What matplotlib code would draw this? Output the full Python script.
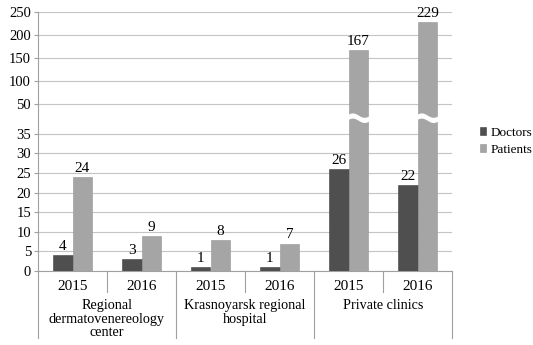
import numpy as np
import matplotlib
matplotlib.use('Agg')
import matplotlib.pyplot as plt
import matplotlib.transforms as mtransforms

plt.rcParams['font.family'] = ['Liberation Serif', 'DejaVu Serif']

# data
years = ['2015', '2016', '2015', '2016', '2015', '2016']
groups = ['Regional\ndermatovenereology\ncenter', 'Krasnoyarsk regional\nhospital', 'Private clinics']
doctors = [4, 3, 1, 1, 26, 22]
patients = [24, 9, 8, 7, 167, 229]
yticks = [0, 5, 10, 15, 20, 25, 30, 35, 50, 100, 150, 200, 250]

# broken axis: 0-35 stretched, 35-50 gap, 50-250 compressed
def fwd(v):
    v = np.asarray(v, dtype=float)
    return np.where(v <= 35, v * 3.92,
           np.where(v <= 50, 137.2 + (v - 35) * 2.0, 167.2 + (v - 50) * 0.46))

def inv(p):
    p = np.asarray(p, dtype=float)
    return np.where(p <= 137.2, p / 3.92,
           np.where(p <= 167.2, 35 + (p - 137.2) / 2.0, 50 + (p - 167.2) / 0.46))

W, H = 533, 345
fig = plt.figure(figsize=(W / 100, H / 100), dpi=100)
ax = fig.add_axes([38 / W, (H - 271) / H, (452 - 38) / W, (271 - 12) / H])
ax.set_yscale('function', functions=(fwd, inv))
ax.set_ylim(0, 250)
ax.set_xlim(-0.5, 5.5)

x = np.arange(len(years))
bw = 0.285
c_doc = '#4f4f4f'
c_pat = '#a5a5a5'
ax.bar(x - bw / 2, doctors, bw, color=c_doc, edgecolor='#404040', linewidth=0.4, label='Doctors', zorder=3)
ax.bar(x + bw / 2, patients, bw, color=c_pat, edgecolor='#959595', linewidth=0.4, label='Patients', zorder=3)

for xi, d, p in zip(x, doctors, patients):
    ax.annotate(str(d), (xi - bw / 2, d), xytext=(0, 1.5), textcoords='offset points',
                ha='center', va='bottom', fontsize=11)
    ax.annotate(str(p), (xi + bw / 2, p), xytext=(0, 1.5), textcoords='offset points',
                ha='center', va='bottom', fontsize=11)

# wavy break across tall bars
for xi, p in zip(x, patients):
    if p > 50:
        xs = np.linspace(xi + bw / 2 - bw * 0.6, xi + bw / 2 + bw * 0.6, 40)
        t = (xs - xs[0]) / (xs[-1] - xs[0])
        low = 41.8 + 1.1 * np.sin(2 * np.pi * t)
        ax.fill_between(xs, low, low + 2.6, color='white', zorder=4, linewidth=0)

# grid, ticks
ax.set_yticks(yticks)
ax.set_yticklabels([str(t) for t in yticks], fontsize=10.5)
ax.yaxis.grid(True, color='#c4c4c4', linewidth=0.8, zorder=0)
ax.tick_params(axis='y', length=3, color='#a0a0a0', pad=2)
ax.set_xticks([])
for s in ['top', 'right']:
    ax.spines[s].set_visible(False)
ax.spines['left'].set_color('#a0a0a0')
ax.spines['bottom'].set_color('#a0a0a0')

# two-level category axis
tr = mtransforms.blended_transform_factory(ax.transData, ax.transAxes)
lo = -67 / 259
for xs in [-0.5, 1.5, 3.5, 5.5]:
    ax.plot([xs, xs], [0, lo], transform=tr, color='#a0a0a0', lw=0.8, clip_on=False)
for xs in [0.5, 2.5, 4.5]:
    ax.plot([xs, xs], [0, -21 / 259], transform=tr, color='#a0a0a0', lw=0.8, clip_on=False)
for xi, y in zip(x, years):
    ax.text(xi, -15 / 259, y, transform=tr, ha='center', va='center', fontsize=11)
for gi, g in enumerate(groups):
    ax.text(2 * gi + 0.5, -28 / 259, g, transform=tr, ha='center', va='top',
            fontsize=10.2, linespacing=1.05)

fig.legend(loc='upper left', bbox_to_anchor=(473 / W, 1 - 120 / H), frameon=False,
           fontsize=9.5, handlelength=0.5, handleheight=0.5, handletextpad=0.3,
           labelspacing=0.4, borderpad=0)

fig.savefig('out.png', dpi=100, facecolor='white')
